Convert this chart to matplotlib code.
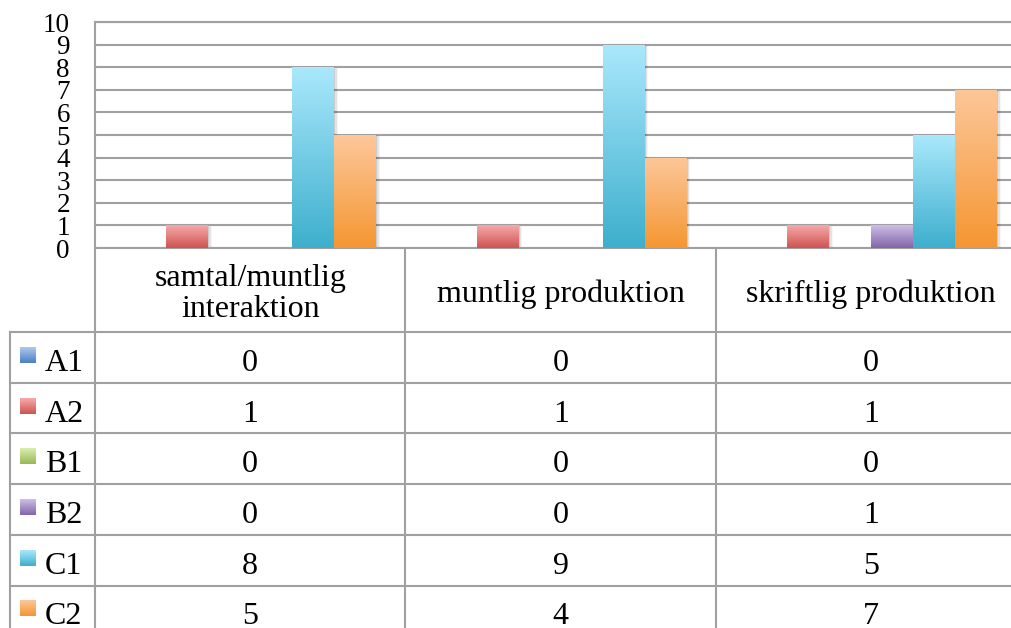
import numpy as np
import matplotlib
matplotlib.use("Agg")
import matplotlib.pyplot as plt
from matplotlib.patches import Rectangle
from matplotlib.colors import LinearSegmentedColormap

# ---- data ----
categories = ["samtal/muntlig\ninteraktion", "muntlig produktion", "skriftlig produktion"]
series_names = ["A1", "A2", "B1", "B2", "C1", "C2"]
A1 = [0, 0, 0]
A2 = [1, 1, 1]
B1 = [0, 0, 0]
B2 = [0, 0, 1]
C1 = [8, 9, 5]
C2 = [5, 4, 7]
series_values = [A1, A2, B1, B2, C1, C2]
y_ticks = list(range(0, 11))

# gradient colours (top, bottom)
grad_colors = [
    ("#AFC8F0", "#4A80C2"),
    ("#F6AAAA", "#CE5450"),
    ("#D9EDB0", "#98B955"),
    ("#CDBFE6", "#8265A8"),
    ("#AAE8FC", "#3DAFCD"),
    ("#FDC79A", "#F59632"),
]

plt.rcParams['font.family'] = ['Liberation Serif', 'DejaVu Serif']

W, H = 1012, 628
fig = plt.figure(figsize=(W / 100, H / 100), dpi=100)

# layout (pixels)
PLOT_L, PLOT_T, PLOT_B = 95, 22, 248
CAT_W = 310.5
HEAD_BOT = 332
ROW_H = 50.7
LABEL_L = 10
GRID_C = "#A0A0A0"
LW = 1.5
FS = 23

ncat = len(categories)
ax = fig.add_axes([PLOT_L / W, (H - PLOT_B) / H, ncat * CAT_W / W, (PLOT_B - PLOT_T) / H])
ax.set_xlim(0, ncat)
ax.set_ylim(0, 10)

nser = len(series_names)
bw = 42 / CAT_W
x = np.arange(ncat) + 0.5
for j, (name, vals) in enumerate(zip(series_names, series_values)):
    pos = x + (j - (nser - 1) / 2) * bw
    bars = ax.bar(pos, vals, width=bw, color=grad_colors[j][1], zorder=3, linewidth=0)
    cmap = LinearSegmentedColormap.from_list(name, [grad_colors[j][1], grad_colors[j][0]])
    for b, v in zip(bars, vals):
        if v <= 0:
            continue
        x0, y0 = b.get_x(), b.get_y()
        w, h = b.get_width(), b.get_height()
        # soft shadow
        for k, a in enumerate([0.10, 0.07, 0.04]):
            ax.add_patch(Rectangle((x0 + (k + 1) * 0.004, y0), w, h - (k + 1) * 0.02,
                                   facecolor="black", alpha=a, linewidth=0, zorder=2))
        grad = np.linspace(0, 1, 256).reshape(-1, 1)
        im = ax.imshow(grad, extent=[x0, x0 + w, y0, y0 + h], origin="lower",
                       cmap=cmap, aspect="auto", zorder=4, interpolation="bilinear")
        im.set_clip_path(b)

ax.set_xlim(0, ncat)
ax.set_ylim(0, 10)
ax.set_yticks(y_ticks)
ax.set_yticklabels([str(t) for t in y_ticks], fontsize=19.5)
ax.set_xticks([])
ax.tick_params(axis="y", length=0, pad=18)
ax.yaxis.grid(True, color=GRID_C, linewidth=LW, zorder=1)
ax.set_axisbelow(True)
for s in ax.spines.values():
    s.set_color(GRID_C)
    s.set_linewidth(LW)
ax.spines["right"].set_visible(False)

# ---- data table ----
tab = fig.add_axes([0, 0, 1, 1], zorder=-1)
tab.set_xlim(0, W)
tab.set_ylim(H, 0)
tab.axis("off")

nrows = len(series_names)
row_tops = [HEAD_BOT + k * ROW_H for k in range(nrows + 1)]
right_edge = PLOT_L + ncat * CAT_W
tab_bottom = row_tops[-1]

# vertical lines
for i in range(ncat + 1):
    xv = PLOT_L + i * CAT_W
    tab.plot([xv, xv], [PLOT_B, tab_bottom], color=GRID_C, lw=LW, solid_capstyle="butt")
tab.plot([LABEL_L, LABEL_L], [HEAD_BOT, tab_bottom], color=GRID_C, lw=LW)
# horizontal lines
for yt in row_tops:
    tab.plot([LABEL_L, right_edge], [yt, yt], color=GRID_C, lw=LW)

# header texts
for i, c in enumerate(categories):
    tab.text(PLOT_L + (i + 0.5) * CAT_W, (PLOT_B + HEAD_BOT) / 2 + 4, c, ha="center",
             va="center", fontsize=FS, linespacing=1.12)

# rows
for r, (name, vals) in enumerate(zip(series_names, series_values)):
    yc = row_tops[r] + ROW_H / 2
    # legend key with gradient
    kx, ky, ks = 20, row_tops[r] + 15, 16
    cmap = LinearSegmentedColormap.from_list("k" + name, [grad_colors[r][0], grad_colors[r][1]])
    grad = np.linspace(0, 1, 64).reshape(-1, 1)
    tab.imshow(grad, extent=[kx, kx + ks, ky + ks, ky], origin="upper", cmap=cmap,
               aspect="auto", interpolation="bilinear")
    tab.text(45, yc + 6, name, ha="left", va="center", fontsize=FS)
    for i, v in enumerate(vals):
        tab.text(PLOT_L + (i + 0.5) * CAT_W, yc + 6, str(v), ha="center", va="center",
                 fontsize=FS)

tab.set_xlim(0, W)
tab.set_ylim(H, 0)

fig.savefig("out.png", dpi=100)
